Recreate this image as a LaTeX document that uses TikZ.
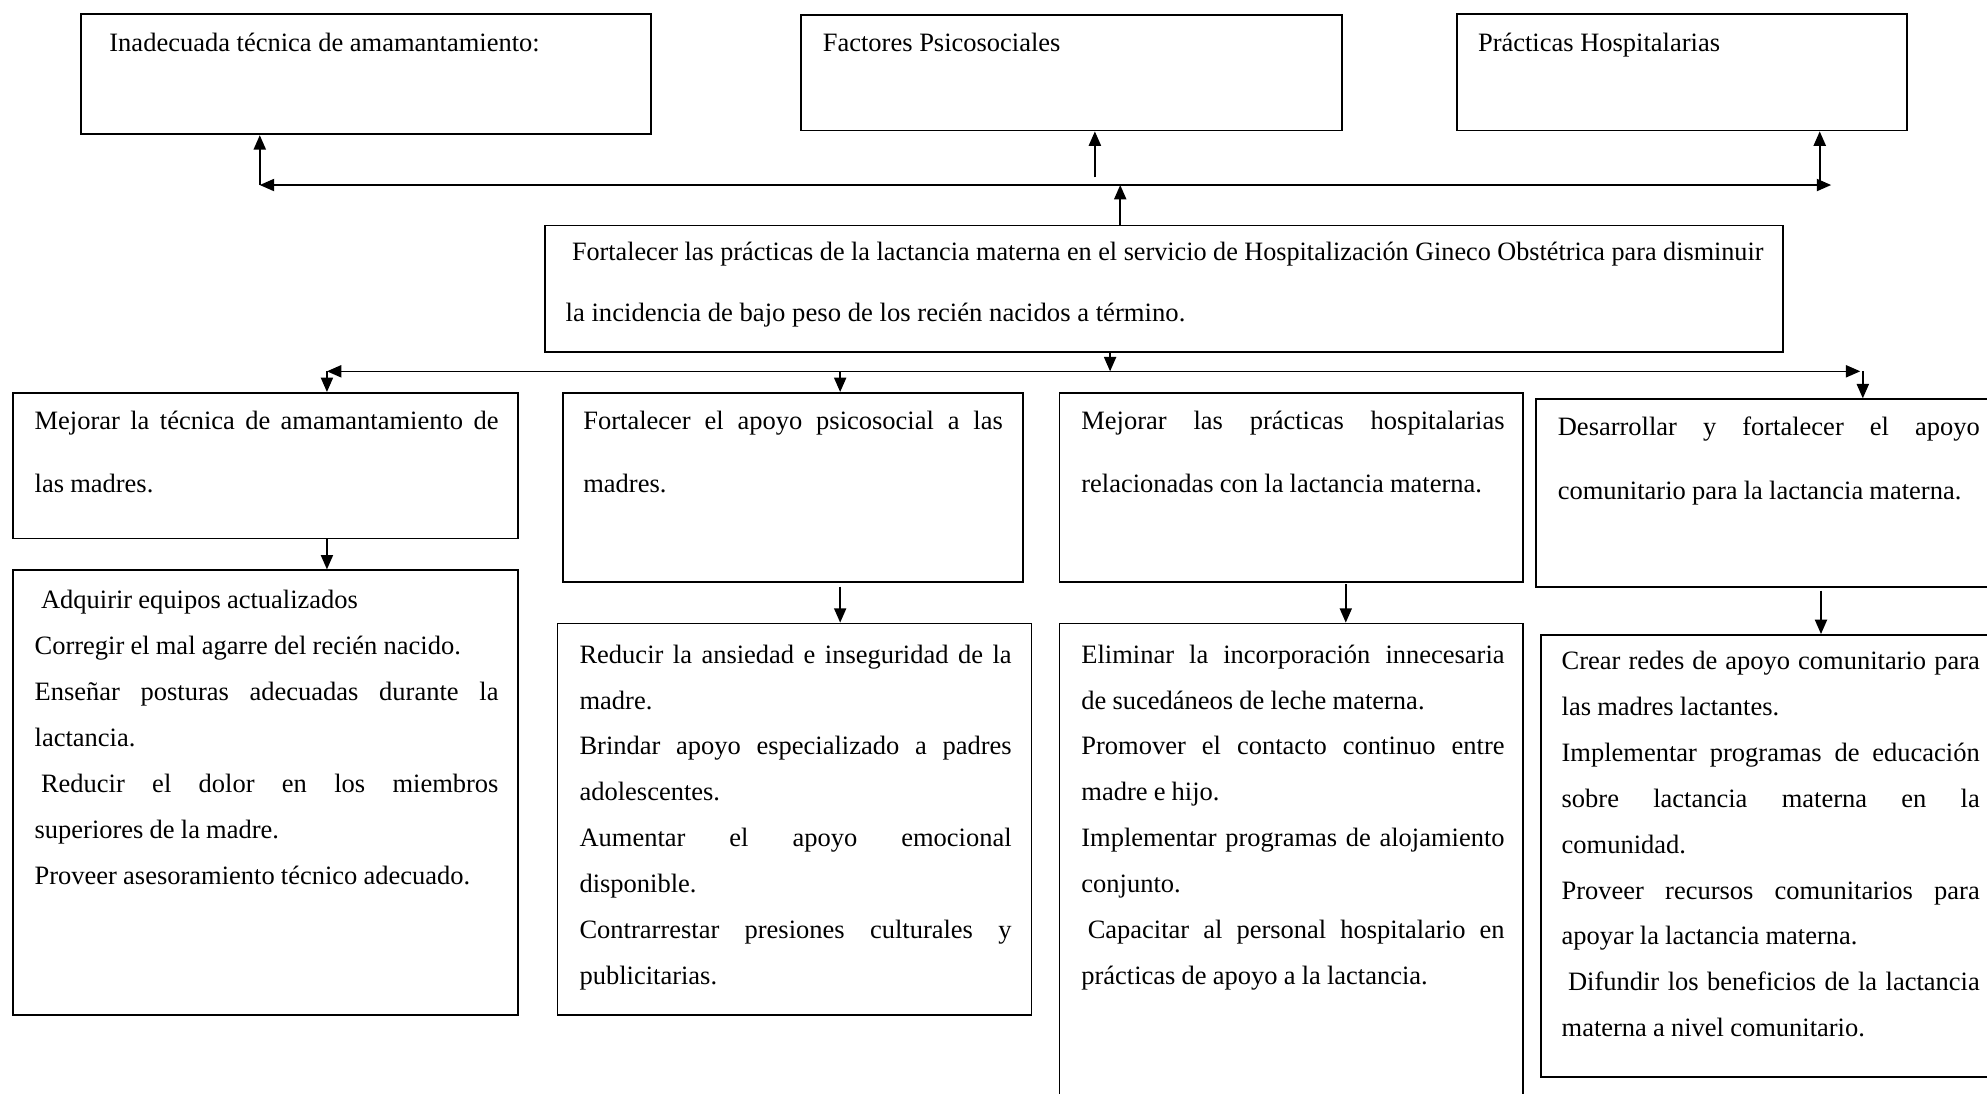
\documentclass[tikz,border=0pt]{standalone}
\usepackage{fontspec}
\setmainfont{Liberation Serif}
\usepackage{graphicx}
\usetikzlibrary{arrows.meta,fit}
\newcommand\jl[1]{\leavevmode\hbox to \lw{\spaceskip=3pt plus 1fil\relax #1}}
\newcommand\fst{\rule{0pt}{10pt}}
\newcommand\tsp{\spaceskip=2.8pt plus 1pt\relax}
\def\lw{100pt}
\begin{document}
\begin{tikzpicture}[x=0.574pt,y=-0.574pt,
  box/.style={draw, line width=0.8pt, inner sep=0pt},
  txt/.style={anchor=north west, inner sep=0pt, align=left},
  t3/.style={txt, font=\fontsize{12}{20.8}\selectfont, execute at begin node=\tsp},
  t2/.style={txt, font=\fontsize{12}{28.7}\selectfont, execute at begin node=\tsp},
  tip/.tip={Triangle[length=6.5pt,width=5.5pt]},
  arr/.style={line width=0.7pt, -tip},
  darr/.style={line width=0.7pt, tip-tip},
]
\clip (0,0) rectangle (1568,863);
\fill[white] (0,0) rectangle (1568,863);

% top boxes
\node[box, fit={(64,11) (514,106)}] (T1) {};
\node[box, fit={(632,12) (1059,103)}] (T2) {};
\node[box, fit={(1150,11) (1505,103)}] (T3) {};
\node[txt, font=\fontsize{12}{14}\selectfont] (T1t) at (86,23) {\fst Inadecuada técnica de amamantamiento:};
\node[txt, font=\fontsize{12}{14}\selectfont] (T2t) at (649,23) {\fst Factores Psicosociales};
\node[txt, font=\fontsize{12}{14}\selectfont] (T3t) at (1166,23) {\fst Prácticas Hospitalarias};

% central box
\node[box, fit={(430,178) (1407,278)}] (C) {};
\node[txt, font=\fontsize{12}{27.6}\selectfont] (Ct) at (446,188) {\fst\hspace*{2.9pt}\resizebox{539.6pt}{\height}{Fortalecer las prácticas de la lactancia materna en el servicio de Hospitalización Gineco Obstétrica para disminuir}\\
\resizebox{280.7pt}{\height}{la incidencia de bajo peso de los recién nacidos a término.}};

% second row
\node[box, fit={(10,310) (409,425)}] (B1) {};
\node[box, fit={(444,310) (807,459)}] (B2) {};
\node[box, fit={(836,310) (1202,459)}] (B3) {};
\node[box, fit={(1212,315) (1590,463)}] (B4) {};
\node[t2, text width=210.1pt] (B1t) at (27,321) {\def\lw{210.1pt}\fst\jl{Mejorar la técnica de amamantamiento de}\\las madres.};
\node[t2, text width=190pt] (B2t) at (460,321) {\def\lw{190pt}\fst\jl{Fortalecer el apoyo psicosocial a las}\\madres.};
\node[t2, text width=191.7pt] (B3t) at (853,321) {\def\lw{191.7pt}\fst\jl{Mejorar las prácticas hospitalarias}\\relacionadas con la lactancia materna.};
\node[t2, text width=191.1pt] (B4t) at (1229,326) {\def\lw{191.1pt}\fst\jl{Desarrollar y fortalecer el apoyo}\\comunitario para la lactancia materna.};

% third row
\node[box, fit={(10,450) (409,801)}] (D1) {};
\node[box, fit={(440,492) (814,801)}] (D2) {};
\node[box, fit={(836,492) (1202,880)}] (D3) {};
\node[box, fit={(1216,501) (1590,850)}] (D4) {};
\node[t3, text width=210.1pt] (D1t) at (27,462.5) {\def\lw{210.1pt}\fst\hspace*{2.9pt}Adquirir equipos actualizados\\
Corregir el mal agarre del recién nacido.\\
\jl{Enseñar posturas adecuadas durante la}\\
lactancia.\\
\jl{\hspace*{2.9pt}Reducir el dolor en los miembros}\\
superiores de la madre.\\
Proveer asesoramiento técnico adecuado.};
\node[t3, text width=195.7pt] (D2t) at (457,505.5) {\def\lw{195.7pt}\fst\jl{Reducir la ansiedad e inseguridad de la}\\
madre.\\
\jl{Brindar apoyo especializado a padres}\\
adolescentes.\\
\jl{Aumentar el apoyo emocional}\\
disponible.\\
\jl{Contrarrestar presiones culturales y}\\
publicitarias.};
\node[t3, text width=191.7pt] (D3t) at (853,505.5) {\def\lw{191.7pt}\fst\jl{Eliminar la incorporación innecesaria}\\
de sucedáneos de leche materna.\\
\jl{Promover el contacto continuo entre}\\
madre e hijo.\\
\jl{Implementar programas de alojamiento}\\
conjunto.\\
\jl{\hspace*{2.9pt}Capacitar al personal hospitalario en}\\
prácticas de apoyo a la lactancia.};
\node[t3, text width=189.4pt] (D4t) at (1232,510.5) {\def\lw{189.4pt}\fst\jl{Crear redes de apoyo comunitario para}\\
las madres lactantes.\\
\jl{Implementar programas de educación}\\
\jl{sobre lactancia materna en la}\\
comunidad.\\
\jl{Proveer recursos comunitarios para}\\
apoyar la lactancia materna.\\
\jl{\hspace*{2.9pt}Difundir los beneficios de la lactancia}\\
materna a nivel comunitario.};

% upper connectors
\coordinate (hL) at (205,146);
\coordinate (hR) at (1445,146);
\coordinate (hR3) at (1436,146);
\coordinate (m1) at (864,140);
\coordinate (m2) at (884,146);
\draw[darr] (hL) -- (hR);
\draw[arr] (hL) -- (hL |- T1.south);
\draw[arr] (hR3) -- (hR3 |- T3.south);
\draw[arr] (m1) -- (m1 |- T2.south);
\draw[arr] (m2 |- C.north) -- (m2);

% lower connectors
\coordinate (lL) at (258,293);
\coordinate (lR) at (1468,293);
\coordinate (lM) at (876,293);
\coordinate (l2) at (663,293);
\coordinate (l4) at (1470,293);
\draw[darr] (lL) -- (lR);
\draw[arr] (lM |- C.south) -- (lM);
\draw[arr] (lL) -- (lL |- B1.north);
\draw[arr] (l2) -- (l2 |- B2.north);
\draw[arr] (l4) -- (l4 |- B4.north);

% row 2 to row 3
\coordinate (a1) at (258,425);
\coordinate (a2) at (663,463);
\coordinate (a3) at (1062,461);
\coordinate (a4) at (1437,466);
\draw[arr] (a1) -- (a1 |- D1.north);
\draw[arr] (a2) -- (a2 |- D2.north);
\draw[arr] (a3) -- (a3 |- D3.north);
\draw[arr] (a4) -- (a4 |- D4.north);
\end{tikzpicture}
\end{document}
